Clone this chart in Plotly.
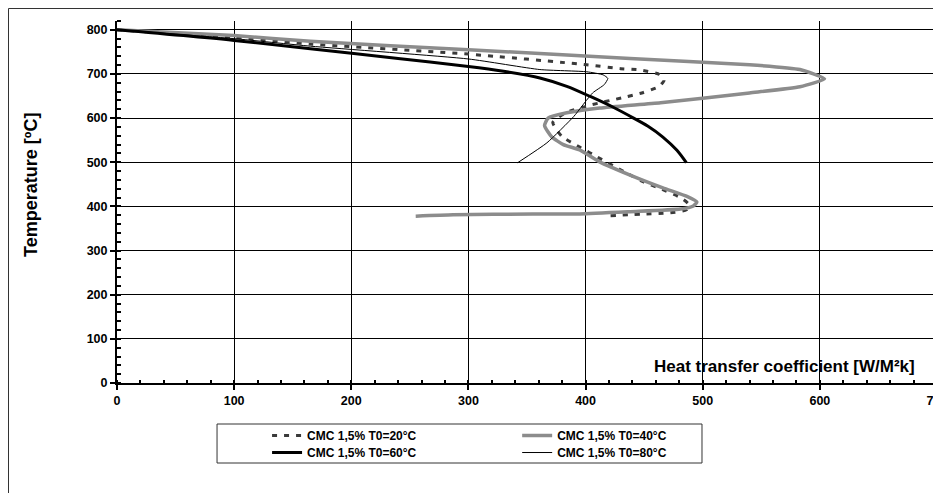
import plotly.graph_objects as go

# ---- data ----
x20 = [0, 100, 165, 300, 401, 430, 447, 463, 467, 463, 448, 431, 405, 383, 372, 380, 396, 410, 449, 464, 481, 488, 486, 470, 452, 421]
t20 = [800, 783, 768, 745, 721, 712, 709, 699, 686, 672, 657, 646, 630, 612, 590, 558, 533, 512, 456, 440, 420, 405, 392, 385, 383, 379]

x40 = [0, 100, 165, 300, 438, 540, 583, 604, 583, 540, 464, 412, 384, 368, 365, 371, 381, 395, 412, 438, 466, 487, 495, 492, 481, 438, 395, 355, 287, 255]
t40 = [800, 787, 774, 755, 735, 721, 710, 689, 671, 657, 635, 623, 612, 600, 583, 558, 540, 528, 501, 471, 442, 422, 410, 401, 394, 388, 383, 383, 381, 378]

x60 = [0, 100, 165, 240, 300, 330, 361, 384, 404, 424, 441, 453, 466, 478, 486]
t60 = [800, 776, 757, 735, 717, 706, 691, 672, 649, 624, 600, 582, 557, 527, 499]

x80 = [0, 100, 165, 300, 361, 401, 415, 419, 416, 406, 390, 367, 342]
t80 = [800, 780, 763, 734, 710, 705, 698, 690, 676, 657, 604, 544, 499]

names = ["CMC 1,5% T0=20°C", "CMC 1,5% T0=40°C", "CMC 1,5% T0=60°C", "CMC 1,5% T0=80°C"]
x_ticks = [0, 100, 200, 300, 400, 500, 600, 700]
y_ticks = [0, 100, 200, 300, 400, 500, 600, 700, 800]

FONT = "Liberation Sans, Arial, sans-serif"

fig = go.Figure()
fig.add_trace(go.Scatter(x=x20, y=t20, mode="lines", name="<b>" + names[0] + "</b>", legend="legend",
                         line=dict(color="#3a3a3a", width=3, dash="5px,7px", shape="spline", smoothing=0.5)))
fig.add_trace(go.Scatter(x=x40, y=t40, mode="lines", name="<b>" + names[1] + "</b>", legend="legend2",
                         line=dict(color="#8c8c8c", width=3.5, shape="spline", smoothing=0.5)))
fig.add_trace(go.Scatter(x=x60, y=t60, mode="lines", name="<b>" + names[2] + "</b>", legend="legend3",
                         line=dict(color="#000000", width=3, shape="spline", smoothing=0.8)))
fig.add_trace(go.Scatter(x=x80, y=t80, mode="lines", name="<b>" + names[3] + "</b>", legend="legend4",
                         line=dict(color="#000000", width=1, shape="spline", smoothing=0.5)))

legfont = dict(family=FONT, size=12, color="black", weight="bold")
tickfont = dict(family=FONT, size=12.5, color="black", weight="bold")


def leg(x, y):
    return dict(x=x, y=y, xanchor="left", yanchor="top", bgcolor="rgba(0,0,0,0)",
                font=legfont, tracegroupgap=0, itemwidth=30)


# page body has an 8px default margin; figure sized so it fills the 941x493 window
fig.update_layout(
    width=933, height=485,
    margin=dict(l=109, r=4, t=13, b=110, autoexpand=False),
    paper_bgcolor="white", plot_bgcolor="white",
    font=dict(family=FONT, color="black"),
    showlegend=True,
    legend=leg(0.183, -0.105),
    legend2=leg(0.488, -0.105),
    legend3=leg(0.183, -0.152),
    legend4=leg(0.488, -0.152),
    xaxis=dict(range=[0, 700], tickvals=x_ticks, showgrid=True, gridcolor="black", gridwidth=1,
               zeroline=False, showline=True, linecolor="black", linewidth=2,
               ticks="outside", ticklen=5, tickwidth=2, tickcolor="black",
               tickfont=tickfont, ticklabeloverflow="allow",
               minor=dict(dtick=20, tick0=0, ticks="inside", ticklen=3, tickwidth=1.5,
                          tickcolor="black", showgrid=False)),
    yaxis=dict(range=[0, 820], tickvals=y_ticks, showgrid=True, gridcolor="black", gridwidth=1,
               zeroline=False, showline=True, linecolor="black", linewidth=2,
               ticks="outside", ticklen=5, tickwidth=2, tickcolor="black",
               tickfont=tickfont,
               minor=dict(dtick=20, tick0=0, ticks="inside", ticklen=4, tickwidth=1.5,
                          tickcolor="black", showgrid=False)),
    annotations=[
        dict(text="<b>Temperature [ºC]</b>", xref="paper", yref="paper", x=-0.105, y=0.547,
             textangle=-90, showarrow=False, xanchor="center", yanchor="middle",
             font=dict(family=FONT, size=18, color="black", weight="bold")),
        dict(text="<b>Heat transfer coefficient [W/M²k]</b>", xref="x", yref="y", x=683, y=38,
             showarrow=False, xanchor="right", yanchor="middle",
             font=dict(family=FONT, size=17, color="black", weight="bold")),
    ],
    shapes=[
        # outer chart frame (left and top edges visible, the rest falls outside the window)
        dict(type="rect", xref="paper", yref="paper", x0=-0.1323, y0=1.0345, x1=1.1, y1=-0.5,
             line=dict(color="#333333", width=1), fillcolor="rgba(0,0,0,0)", layer="below"),
        # legend frame
        dict(type="rect", xref="paper", yref="paper", x0=0.122, y0=-0.1133, x1=0.7134, y1=-0.221,
             line=dict(color="#333333", width=1), fillcolor="rgba(0,0,0,0)"),
    ],
)

fig.write_html("out.html")
